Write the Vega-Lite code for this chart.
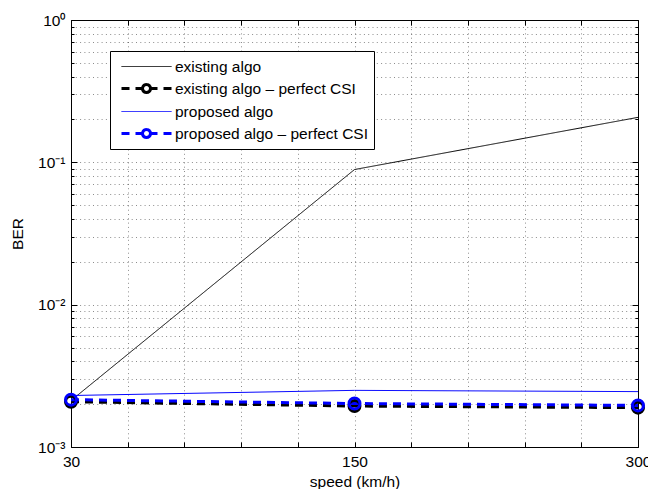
{
  "$schema": "https://vega.github.io/schema/vega-lite/v6.json",
  "width": 567,
  "height": 427,
  "autosize": {"type": "none"},
  "padding": {"left": 71, "top": 20, "right": 10, "bottom": 42},
  "background": "white",
  "config": {
    "view": {"stroke": "black", "strokeWidth": 1},
    "font": "Liberation Sans",
    "axis": {"labelFont": "Liberation Sans", "titleFont": "Liberation Sans", "labelColor": "black", "titleColor": "black", "labelFontSize": 15.5, "titleFontSize": 15.5, "titleFontWeight": "normal"},
    "legend": {"title": null, "orient": "none", "legendX": 39, "legendY": 31, "direction": "vertical", "fillColor": "white", "strokeColor": "black", "padding": 5, "labelFont": "Liberation Sans", "labelFontSize": 15.5, "labelColor": "black", "labelLimit": 0, "symbolSize": 400, "symbolOpacity": 1, "symbolOffset": 20, "labelOffset": 17, "rowPadding": 2}
  },
  "data": {
    "values": [
      {"series": "existing algo", "speed": 30, "ber": 0.00212},
      {"series": "existing algo", "speed": 150, "ber": 0.089},
      {"series": "existing algo", "speed": 300, "ber": 0.207},
      {"series": "existing algo – perfect CSI", "speed": 30, "ber": 0.00208},
      {"series": "existing algo – perfect CSI", "speed": 150, "ber": 0.00194},
      {"series": "existing algo – perfect CSI", "speed": 300, "ber": 0.00189},
      {"series": "proposed algo", "speed": 30, "ber": 0.0023},
      {"series": "proposed algo", "speed": 150, "ber": 0.0025},
      {"series": "proposed algo", "speed": 300, "ber": 0.00245},
      {"series": "proposed algo – perfect CSI", "speed": 30, "ber": 0.00215},
      {"series": "proposed algo – perfect CSI", "speed": 150, "ber": 0.00202},
      {"series": "proposed algo – perfect CSI", "speed": 300, "ber": 0.00196}
    ]
  },
  "layer": [
    {
      "mark": {"type": "line", "clip": true},
      "encoding": {
        "x": {"field": "speed", "type": "quantitative",
          "scale": {"domain": [30, 150, 300], "range": [0, 283.5, 567], "nice": false, "zero": false},
          "axis": {"orient": "bottom", "values": [30, 150, 300], "grid": false, "ticks": false, "domain": false, "labelPadding": 7, "labelFlush": false, "title": "speed (km/h)", "titleY": 34, "titleBaseline": "middle"}},
        "y": {"field": "ber", "type": "quantitative",
          "scale": {"type": "log", "domain": [0.001, 1], "nice": false},
          "axis": {"orient": "left", "values": [0.001, 0.01, 0.1, 1], "labelExpr": "datum.value >= 0.999 ? '10⁰' : datum.value >= 0.0999 ? '10⁻¹' : datum.value >= 0.00999 ? '10⁻²' : '10⁻³'", "grid": false, "ticks": false, "domain": false, "labelPadding": 6, "title": "BER", "titleX": -54, "titleY": 213.5, "titleAngle": -90, "titleAlign": "center", "titleBaseline": "middle"}},
        "color": {"field": "series", "type": "nominal",
          "scale": {"domain": ["existing algo", "existing algo – perfect CSI", "proposed algo", "proposed algo – perfect CSI"], "range": ["#000000", "#000000", "#0000ff", "#0000ff"]}},
        "strokeDash": {"field": "series", "type": "nominal",
          "scale": {"domain": ["existing algo", "existing algo – perfect CSI", "proposed algo", "proposed algo – perfect CSI"], "range": [[1, 0], [8, 6], [1, 0], [8, 6]]}},
        "strokeWidth": {"field": "series", "type": "nominal",
          "scale": {"type": "ordinal", "domain": ["existing algo", "existing algo – perfect CSI", "proposed algo", "proposed algo – perfect CSI"], "range": [1, 3, 1, 3]}}
      }
    },
    {
      "transform": [{"filter": "indexof(datum.series, 'perfect') >= 0"}],
      "mark": {"type": "point", "filled": false, "size": 120, "strokeWidth": 3, "opacity": 1, "clip": false},
      "encoding": {
        "x": {"field": "speed", "type": "quantitative",
          "axis": {"orient": "bottom", "values": [30, 54, 78, 102, 126, 150, 180, 210, 240, 270, 300], "grid": true, "gridDash": [1, 3.3], "gridColor": "black", "gridOpacity": 0.45, "gridWidth": 1, "ticks": true, "tickSize": -5, "tickColor": "black", "labels": false, "domain": false, "title": null}},
        "y": {"field": "ber", "type": "quantitative",
          "axis": {"orient": "left", "values": [0.001, 0.002, 0.003, 0.004, 0.005, 0.006, 0.007, 0.008, 0.009, 0.01, 0.02, 0.03, 0.04, 0.05, 0.06, 0.07, 0.08, 0.09, 0.1, 0.2, 0.3, 0.4, 0.5, 0.6, 0.7, 0.8, 0.9, 1], "grid": true, "gridDash": [1, 3.3], "gridColor": "black", "gridOpacity": 0.45, "gridWidth": 1, "ticks": true, "tickSize": {"condition": {"test": "indexof([0.001, 0.01, 0.1, 1], datum.value) >= 0", "value": -6}, "value": -3}, "tickColor": "black", "labels": false, "domain": false, "title": null}},
        "color": {"field": "series", "type": "nominal"}
      }
    },
    {
      "mark": {"type": "point", "filled": false, "opacity": 0},
      "encoding": {
        "x": {"field": "speed", "type": "quantitative",
          "axis": {"orient": "top", "values": [30, 54, 78, 102, 126, 150, 180, 210, 240, 270, 300], "grid": false, "ticks": true, "tickSize": -5, "tickColor": "black", "labels": false, "domain": false, "title": null}},
        "y": {"field": "ber", "type": "quantitative",
          "axis": {"orient": "right", "values": [0.001, 0.002, 0.003, 0.004, 0.005, 0.006, 0.007, 0.008, 0.009, 0.01, 0.02, 0.03, 0.04, 0.05, 0.06, 0.07, 0.08, 0.09, 0.1, 0.2, 0.3, 0.4, 0.5, 0.6, 0.7, 0.8, 0.9, 1], "grid": false, "ticks": true, "tickSize": {"condition": {"test": "indexof([0.001, 0.01, 0.1, 1], datum.value) >= 0", "value": -6}, "value": -3}, "tickColor": "black", "labels": false, "domain": false, "title": null}},
        "color": {"field": "series", "type": "nominal"},
        "shape": {"field": "series", "type": "nominal",
          "scale": {"domain": ["existing algo", "existing algo – perfect CSI", "proposed algo", "proposed algo – perfect CSI"], "range": ["M-2.5,0H2.5", "M-2.5,0H2.5M0.4,0A0.4,0.4,0,1,1,-0.4,0A0.4,0.4,0,1,1,0.4,0A0.4,0.4,0,1,1,-0.4,0A0.4,0.4,0,1,1,0.4,0A0.4,0.4,0,1,1,-0.4,0A0.4,0.4,0,1,1,0.4,0A0.4,0.4,0,1,1,-0.4,0A0.4,0.4,0,1,1,0.4,0A0.4,0.4,0,1,1,-0.4,0A0.4,0.4,0,1,1,0.4,0", "M-2.5,0H2.5", "M-2.5,0H2.5M0.4,0A0.4,0.4,0,1,1,-0.4,0A0.4,0.4,0,1,1,0.4,0A0.4,0.4,0,1,1,-0.4,0A0.4,0.4,0,1,1,0.4,0A0.4,0.4,0,1,1,-0.4,0A0.4,0.4,0,1,1,0.4,0A0.4,0.4,0,1,1,-0.4,0A0.4,0.4,0,1,1,0.4,0A0.4,0.4,0,1,1,-0.4,0A0.4,0.4,0,1,1,0.4,0"]}}
      }
    }
  ],
  "resolve": {"axis": {"x": "independent", "y": "independent"}}
}
